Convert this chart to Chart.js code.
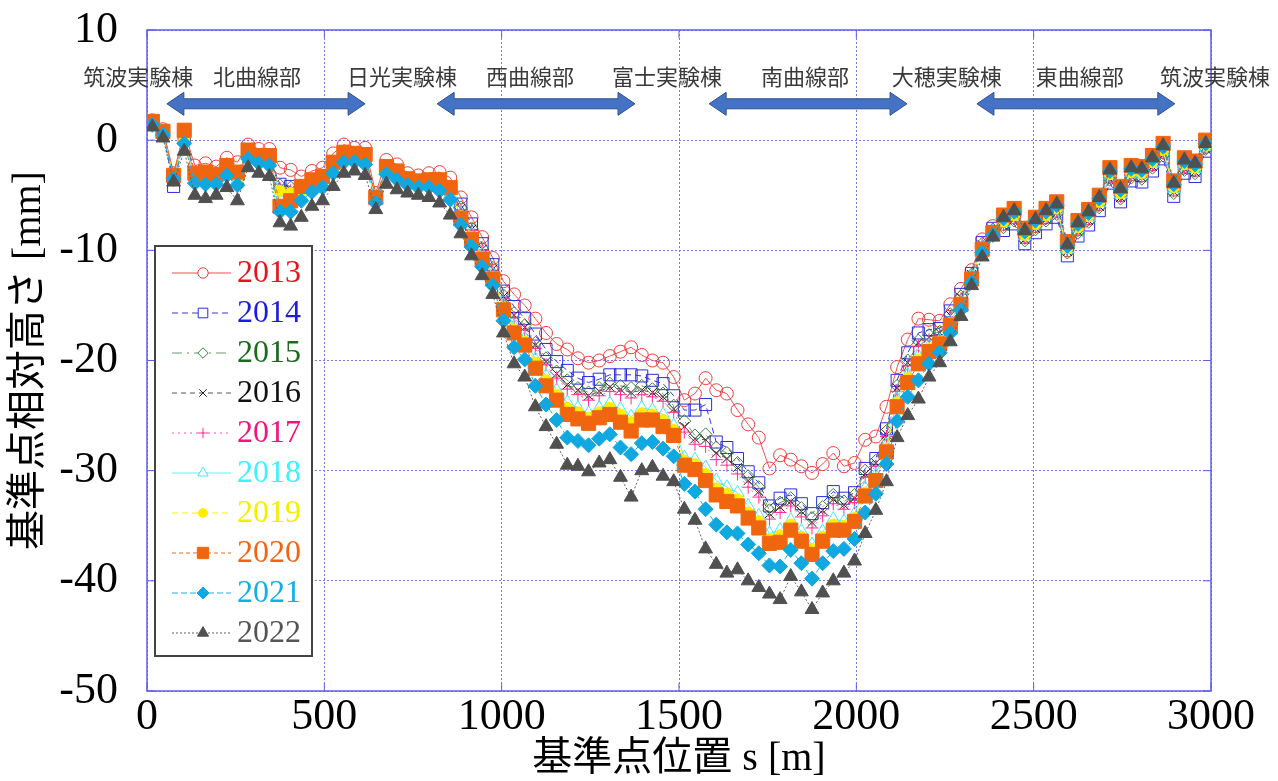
<!DOCTYPE html>
<html lang="ja">
<head>
<meta charset="utf-8">
<title>基準点相対高さ</title>
<script src="https://cdn.jsdelivr.net/npm/chart.js@4.4.0/dist/chart.umd.min.js"></script>
<style>
  html, body { margin: 0; padding: 0; background: #fff; }
  #wrap { width: 1278px; height: 781px; }
</style>
</head>
<body>
<div id="wrap"><canvas id="chart" width="1278" height="781"></canvas></div>
<script>
// survey point position s [m]
const positions = [
  15, 45, 75, 105, 135, 165, 195, 225, 255, 285,
  315, 345, 375, 405, 435, 465, 495, 525, 555, 585,
  615, 645, 675, 705, 735, 765, 795, 825, 855, 885,
  915, 945, 975, 1005, 1035, 1065, 1095, 1125, 1155, 1185,
  1215, 1245, 1275, 1305, 1335, 1365, 1395, 1425, 1455, 1485,
  1515, 1545, 1575, 1605, 1635, 1665, 1695, 1725, 1755, 1785,
  1815, 1845, 1875, 1905, 1935, 1965, 1995, 2025, 2055, 2085,
  2115, 2145, 2175, 2205, 2235, 2265, 2295, 2325, 2355, 2385,
  2415, 2445, 2475, 2505, 2535, 2565, 2595, 2625, 2655, 2685,
  2715, 2745, 2775, 2805, 2835, 2865, 2895, 2925, 2955, 2985
];

// relative height [mm] per year
const y2013 = [
  1.8, 1.0, -3.0, 0.8, -2.3, -2.1, -2.4, -1.6, -2.0, -0.4,
  -0.8, -0.8, -2.5, -2.7, -3.3, -2.8, -2.5, -1.2, -0.4, -0.7,
  -0.7, -4.8, -1.8, -2.2, -3.0, -3.2, -3.0, -2.9, -3.4, -5.2,
  -7.0, -8.8, -10.7, -12.8, -14.0, -15.0, -16.2, -17.5, -18.5, -19.0,
  -19.8, -20.2, -20.0, -19.6, -19.2, -18.8, -19.5, -20.0, -20.2, -21.5,
  -23.6, -23.0, -21.6, -22.7, -23.0, -24.5, -25.8, -27.0, -29.8, -28.6,
  -29.0, -29.6, -30.2, -29.4, -28.4, -29.6, -29.3, -27.2, -26.9, -24.2,
  -20.6, -18.1, -16.2, -16.3, -16.4, -14.9, -13.5, -11.8, -9.0, -7.8,
  -7.6, -7.0, -8.8, -7.8, -7.0, -6.4, -10.0, -8.1, -7.1, -5.8,
  -3.3, -5.0, -3.1, -3.2, -2.2, -1.1, -4.5, -2.4, -2.7, -0.6
];
const y2014 = [
  1.6, 0.8, -4.2, 0.3, -3.1, -3.1, -3.2, -2.4, -3.1, -1.0,
  -1.5, -1.6, -4.0, -4.2, -4.4, -3.8, -3.4, -2.1, -1.2, -1.3,
  -1.5, -5.3, -2.5, -2.9, -3.5, -3.7, -3.7, -3.7, -4.4, -5.8,
  -7.6, -9.4, -11.3, -13.7, -15.1, -16.2, -17.6, -19.0, -20.1, -20.9,
  -21.6, -22.0, -21.7, -21.3, -21.3, -21.3, -21.4, -21.8, -22.1, -23.2,
  -24.5, -24.5, -24.0, -27.4, -27.9, -28.9, -30.1, -31.1, -33.2, -32.5,
  -32.2, -33.0, -33.9, -32.9, -31.9, -32.5, -32.0, -29.8, -28.9, -26.2,
  -21.8, -19.3, -17.5, -17.2, -17.1, -15.5, -14.0, -12.1, -9.3, -8.0,
  -8.2, -7.6, -9.4, -8.4, -7.6, -7.0, -10.5, -8.7, -7.7, -6.4,
  -3.9, -5.6, -3.7, -3.8, -2.8, -1.7, -5.1, -3.0, -3.3, -1.0
];
const y2015 = [
  1.6, 0.7, -3.3, 0.2, -3.2, -3.1, -3.2, -2.5, -3.1, -1.1,
  -1.5, -1.6, -4.1, -4.3, -4.5, -3.8, -3.5, -2.2, -1.2, -1.4,
  -1.5, -5.3, -2.5, -2.9, -3.6, -3.8, -3.7, -3.8, -4.5, -6.1,
  -8.0, -9.8, -11.6, -14.1, -15.7, -16.8, -18.4, -19.8, -21.0, -21.8,
  -22.5, -22.9, -22.5, -22.1, -22.3, -22.5, -22.3, -22.6, -23.0, -24.1,
  -25.5, -26.8, -26.7, -27.9, -28.4, -29.3, -30.5, -31.5, -33.6, -32.9,
  -32.5, -33.4, -34.3, -33.3, -32.2, -32.8, -32.2, -30.0, -29.1, -26.4,
  -22.3, -20.0, -18.2, -17.7, -17.4, -15.8, -14.2, -12.2, -9.4, -8.1,
  -7.9, -7.3, -9.1, -8.1, -7.3, -6.7, -10.2, -8.4, -7.4, -6.1,
  -3.6, -5.3, -3.4, -3.5, -2.5, -1.4, -4.8, -2.7, -3.0, -0.8
];
const y2016 = [
  1.6, 0.7, -3.3, 0.2, -3.3, -3.3, -3.3, -2.6, -3.3, -1.2,
  -1.6, -1.7, -4.3, -4.5, -4.6, -4.0, -3.6, -2.3, -1.3, -1.5,
  -1.6, -5.3, -2.6, -3.0, -3.7, -3.9, -3.8, -3.9, -4.6, -6.2,
  -8.1, -9.9, -11.7, -14.2, -15.9, -17.0, -18.6, -20.1, -21.2, -22.2,
  -22.7, -23.2, -22.8, -22.4, -22.6, -22.9, -22.7, -22.9, -23.3, -24.4,
  -26.0, -27.1, -27.2, -28.4, -28.9, -29.7, -30.9, -31.9, -33.9, -33.3,
  -32.8, -33.7, -34.7, -33.6, -32.6, -33.1, -32.5, -30.3, -29.3, -26.7,
  -22.5, -20.2, -18.4, -17.9, -17.5, -15.9, -14.3, -12.2, -9.5, -8.1,
  -7.8, -7.2, -9.0, -8.0, -7.2, -6.6, -10.1, -8.3, -7.3, -6.0,
  -3.5, -5.2, -3.3, -3.4, -2.4, -1.3, -4.7, -2.6, -2.9, -0.8
];
const y2017 = [
  1.6, 0.7, -3.3, 0.1, -3.3, -3.3, -3.4, -2.6, -3.3, -1.2,
  -1.6, -1.8, -4.4, -4.6, -4.7, -4.0, -3.6, -2.3, -1.4, -1.5,
  -1.7, -5.4, -2.6, -3.1, -3.7, -3.9, -3.8, -4.0, -4.7, -6.3,
  -8.2, -10.0, -11.8, -14.4, -16.1, -17.2, -18.9, -20.4, -21.6, -22.6,
  -23.1, -23.6, -23.2, -22.8, -23.1, -23.4, -23.1, -23.3, -23.7, -24.7,
  -26.5, -27.6, -27.8, -29.0, -29.5, -30.3, -31.5, -32.4, -34.4, -33.8,
  -33.2, -34.2, -35.2, -34.1, -33.0, -33.5, -32.9, -30.6, -29.6, -26.9,
  -22.8, -20.5, -18.7, -18.1, -17.7, -16.1, -14.4, -12.3, -9.5, -8.1,
  -7.7, -7.1, -8.9, -7.9, -7.1, -6.5, -10.0, -8.2, -7.2, -5.9,
  -3.4, -5.1, -3.2, -3.3, -2.3, -1.2, -4.6, -2.5, -2.8, -0.7
];
const y2018 = [
  1.5, 0.6, -3.4, 0.0, -3.5, -3.5, -3.6, -2.8, -3.6, -1.4,
  -1.8, -1.9, -4.8, -5.0, -5.0, -4.2, -3.9, -2.6, -1.6, -1.7,
  -1.8, -5.5, -2.8, -3.2, -3.8, -4.0, -4.0, -4.2, -4.9, -6.7,
  -8.6, -10.4, -12.2, -15.0, -16.9, -18.0, -19.9, -21.4, -22.7, -23.8,
  -24.3, -24.8, -24.3, -23.9, -24.4, -25.1, -24.3, -24.5, -24.9, -25.9,
  -28.8, -29.0, -29.7, -30.9, -31.5, -32.0, -33.2, -34.1, -35.7, -35.4,
  -34.5, -35.5, -36.7, -35.5, -34.4, -34.6, -33.9, -31.6, -30.4, -27.7,
  -23.5, -21.3, -19.6, -18.7, -18.2, -16.5, -14.7, -12.4, -9.7, -8.3,
  -7.5, -6.9, -8.7, -7.7, -6.9, -6.3, -9.9, -8.0, -7.0, -5.7,
  -3.2, -4.9, -3.0, -3.1, -2.1, -1.0, -4.4, -2.3, -2.6, -0.6
];
const y2019 = [
  1.5, 0.7, -3.3, 0.0, -3.4, -3.4, -3.5, -2.7, -3.5, -1.3,
  -1.7, -1.9, -4.6, -4.8, -4.9, -4.1, -3.8, -2.5, -1.5, -1.6,
  -1.8, -5.4, -2.7, -3.2, -3.8, -4.0, -3.9, -4.1, -4.8, -6.9,
  -8.8, -10.6, -12.4, -15.2, -17.2, -18.3, -20.2, -21.8, -23.1, -24.3,
  -24.7, -25.2, -24.7, -24.3, -24.9, -25.6, -24.8, -24.9, -25.4, -26.3,
  -29.1, -29.4, -30.3, -31.6, -32.1, -32.6, -33.8, -34.6, -36.2, -35.9,
  -34.9, -36.0, -37.1, -36.0, -34.9, -35.0, -34.3, -32.0, -30.7, -28.0,
  -23.8, -21.6, -19.9, -18.9, -18.3, -16.6, -14.8, -12.5, -9.8, -8.3,
  -7.4, -6.8, -8.6, -7.6, -6.8, -6.2, -9.8, -7.9, -6.9, -5.6,
  -3.1, -4.8, -2.9, -3.0, -2.0, -0.9, -4.3, -2.2, -2.5, -0.5
];
const y2020 = [
  1.7, 0.8, -3.2, 0.9, -3.0, -2.9, -3.1, -2.3, -2.9, -0.9,
  -1.4, -1.4, -6.0, -5.5, -4.2, -3.6, -3.3, -2.0, -1.1, -1.2,
  -1.3, -5.2, -2.4, -2.8, -3.5, -3.7, -3.6, -3.6, -4.3, -7.1,
  -9.0, -10.8, -12.6, -15.4, -17.5, -18.6, -20.7, -22.3, -23.6, -24.9,
  -25.3, -25.7, -25.2, -24.9, -25.6, -26.4, -25.4, -25.4, -26.0, -26.8,
  -29.5, -29.9, -30.9, -32.2, -32.8, -33.2, -34.3, -35.2, -36.6, -36.5,
  -35.4, -36.4, -37.6, -36.4, -35.4, -35.4, -34.6, -32.3, -30.9, -28.3,
  -24.2, -22.0, -20.3, -19.2, -18.5, -16.8, -14.9, -12.6, -9.9, -8.4,
  -6.8, -6.2, -8.0, -7.0, -6.2, -5.6, -9.2, -7.3, -6.3, -5.0,
  -2.5, -4.2, -2.3, -2.4, -1.4, -0.3, -3.7, -1.6, -1.9, 0.0
];
const y2021 = [
  1.4, 0.5, -3.5, -0.3, -3.9, -4.0, -4.0, -3.2, -4.1, -1.7,
  -2.1, -2.3, -6.5, -6.5, -5.5, -4.7, -4.3, -3.0, -2.0, -2.0,
  -2.2, -5.7, -3.1, -3.6, -4.1, -4.3, -4.3, -4.6, -5.4, -7.7,
  -9.7, -11.5, -13.2, -16.4, -18.8, -19.9, -22.3, -24.0, -25.4, -27.0,
  -27.3, -27.7, -27.1, -26.7, -27.9, -28.5, -27.5, -27.4, -28.0, -28.7,
  -31.2, -31.9, -33.5, -34.9, -35.6, -35.7, -36.7, -37.5, -38.6, -38.7,
  -37.2, -38.4, -39.8, -38.4, -37.3, -37.1, -36.2, -33.8, -32.1, -29.4,
  -25.5, -23.3, -21.8, -20.3, -19.3, -17.5, -15.4, -12.9, -10.2, -8.6,
  -7.1, -6.5, -8.3, -7.3, -6.5, -5.9, -9.6, -7.6, -6.6, -5.3,
  -2.8, -4.5, -2.6, -2.7, -1.7, -0.6, -4.0, -1.9, -2.2, -0.3
];
const y2022 = [
  1.2, 0.2, -3.8, -1.0, -5.0, -5.3, -5.0, -4.3, -5.5, -2.5,
  -3.0, -3.3, -7.5, -7.8, -7.0, -6.0, -5.5, -4.2, -3.0, -2.8,
  -3.2, -6.3, -4.0, -4.5, -4.8, -5.0, -5.2, -5.7, -6.8, -8.5,
  -10.5, -12.3, -14.0, -17.5, -20.3, -21.5, -24.2, -26.0, -27.6, -29.5,
  -29.6, -30.1, -29.3, -29.0, -30.6, -32.4, -30.0, -29.7, -30.5, -31.0,
  -33.5, -34.5, -37.1, -38.5, -39.3, -39.0, -40.0, -40.6, -41.2, -41.7,
  -39.6, -41.0, -42.6, -41.1, -40.0, -39.3, -38.2, -35.7, -33.6, -31.0,
  -27.0, -25.0, -23.5, -21.5, -20.2, -18.3, -16.0, -13.2, -10.6, -8.8,
  -7.0, -6.4, -8.2, -7.2, -6.4, -5.8, -9.5, -7.5, -6.5, -5.2,
  -2.7, -4.4, -2.5, -2.6, -1.6, -0.5, -3.9, -1.8, -2.1, -0.3
];

const years = ['2013', '2014', '2015', '2016', '2017', '2018', '2019', '2020', '2021', '2022'];
const series = [y2013, y2014, y2015, y2016, y2017, y2018, y2019, y2020, y2021, y2022];
const xTicks = [0, 500, 1000, 1500, 2000, 2500, 3000];
const yTicks = [-50, -40, -30, -20, -10, 0, 10];
const sectionNames = ['筑波実験棟', '北曲線部', '日光実験棟', '西曲線部', '富士実験棟',
  '南曲線部', '大穂実験棟', '東曲線部', '筑波実験棟'];

// look of each year (line, marker, legend text)
const looks = [
  { line: '#f05050', mark: '#f03c3c', fill: 'rgba(0,0,0,0)', style: 'circle', r: 6.5, dash: [], text: '#e8141c' },
  { line: '#3535e0', mark: '#2c2ce0', fill: 'rgba(0,0,0,0)', style: 'rect', r: 8.5, dash: [6, 4], text: '#1c1ce0' },
  { line: '#6a9a6a', mark: '#3f7f3f', fill: 'rgba(0,0,0,0)', style: 'rectRot', r: 6.5, dash: [10, 5, 2, 5], text: '#1a6b1a' },
  { line: '#555555', mark: '#222222', fill: 'rgba(0,0,0,0)', style: 'crossRot', r: 6.5, dash: [5, 4], text: '#111111' },
  { line: '#ff4da6', mark: '#ff2e95', fill: 'rgba(0,0,0,0)', style: 'cross', r: 6.5, dash: [2, 4], text: '#f0147c' },
  { line: '#5ff2ff', mark: '#44eaff', fill: 'rgba(0,0,0,0)', style: 'triangle', r: 7.5, dash: [], text: '#3ff0ff' },
  { line: '#ffee00', mark: '#ffea00', fill: '#ffee00', style: 'circle', r: 5.5, dash: [6, 4], text: '#f2f000' },
  { line: '#f06a1a', mark: '#f0660f', fill: '#f0660f', style: 'rect', r: 10, dash: [4, 3], text: '#f26414' },
  { line: '#22aee6', mark: '#10a8e0', fill: '#10a8e0', style: 'rectRot', r: 7.5, dash: [6, 3], text: '#14aee6' },
  { line: '#606060', mark: '#505050', fill: '#505050', style: 'triangle', r: 8, dash: [2, 2], text: '#555555' }
];

const overlay = {
  id: 'overlay',
  beforeDatasetsDraw(chart) {
    const { ctx, chartArea: a, scales } = chart;
    ctx.save();
    ctx.strokeStyle = '#5f5fe8';
    ctx.lineWidth = 1.5;
    ctx.strokeRect(a.left, a.top, a.right - a.left, a.bottom - a.top);
    ctx.lineWidth = 1;
    ctx.beginPath();
    yTicks.forEach(v => {
      const py = scales.y.getPixelForValue(v);
      ctx.moveTo(a.left, py); ctx.lineTo(a.left + 8, py);
      ctx.moveTo(a.right, py); ctx.lineTo(a.right - 8, py);
    });
    xTicks.forEach(v => {
      const px = scales.x.getPixelForValue(v);
      ctx.moveTo(px, a.bottom); ctx.lineTo(px, a.bottom - 8);
      ctx.moveTo(px, a.top); ctx.lineTo(px, a.top + 8);
    });
    ctx.stroke();
    ctx.restore();
  },
  afterDatasetsDraw(chart) {
    const { ctx } = chart;
    // legend box
    ctx.save();
    ctx.fillStyle = '#fff';
    ctx.fillRect(155, 246, 157, 410);
    ctx.strokeStyle = '#444';
    ctx.lineWidth = 2;
    ctx.strokeRect(155, 246, 157, 410);
    years.forEach((yr, i) => {
      const lk = looks[i];
      const y = 273 + i * 40;
      ctx.strokeStyle = lk.line;
      ctx.lineWidth = 1;
      ctx.setLineDash(lk.dash);
      ctx.beginPath();
      ctx.moveTo(172, y); ctx.lineTo(231, y);
      ctx.stroke();
      ctx.setLineDash([]);
      ctx.fillStyle = lk.fill === 'rgba(0,0,0,0)' ? '#fff' : lk.fill;
      ctx.strokeStyle = lk.mark;
      Chart.helpers.drawPoint(ctx, { pointStyle: lk.style, radius: lk.r * 0.8, rotation: 0, borderWidth: 1 }, 203, y);
      ctx.fillStyle = lk.text;
      ctx.font = '32px "Liberation Serif"';
      ctx.textAlign = 'left';
      ctx.textBaseline = 'middle';
      ctx.fillText(yr, 237, y + 1);
    });
    ctx.restore();
  },
  afterDraw(chart) {
    const { ctx, scales } = chart;
    const sx = v => scales.x.getPixelForValue(v);
    const ty = scales.y.getPixelForValue(5.8);
    const ay = scales.y.getPixelForValue(3.3);
    const labelAt = [-25, 310, 719, 1080, 1466, 1855, 2255, 2630, 3011];
    const arrows = [[56, 615], [818, 1376], [1585, 2143], [2340, 2898]];
    ctx.save();
    ctx.font = '22px "Noto Sans CJK JP"';
    ctx.fillStyle = '#3a3a3a';
    ctx.textAlign = 'center';
    ctx.textBaseline = 'middle';
    sectionNames.forEach((t, i) => ctx.fillText(t, sx(labelAt[i]), ty));
    arrows.forEach(([s1, s2]) => {
      const x1 = sx(s1), x2 = sx(s2);
      const sh = 5, hh = 11.5, hl = 17;
      ctx.beginPath();
      ctx.moveTo(x1, ay);
      ctx.lineTo(x1 + hl, ay - hh);
      ctx.lineTo(x1 + hl, ay - sh);
      ctx.lineTo(x2 - hl, ay - sh);
      ctx.lineTo(x2 - hl, ay - hh);
      ctx.lineTo(x2, ay);
      ctx.lineTo(x2 - hl, ay + hh);
      ctx.lineTo(x2 - hl, ay + sh);
      ctx.lineTo(x1 + hl, ay + sh);
      ctx.lineTo(x1 + hl, ay + hh);
      ctx.closePath();
      ctx.fillStyle = '#4472c4';
      ctx.fill();
      ctx.strokeStyle = '#2f4f8f';
      ctx.lineWidth = 1;
      ctx.stroke();
    });
    ctx.restore();
  }
};

const tickFont = { family: '"Liberation Serif"', size: 44 };
const titleFont = { family: '"Liberation Serif", "Noto Sans CJK JP"', size: 40, lineHeight: 1 };

new Chart(document.getElementById('chart'), {
  type: 'line',
  data: {
    datasets: years.map((yr, i) => ({
      label: yr,
      data: positions.map((s, k) => ({ x: s, y: series[i][k] })),
      borderColor: looks[i].line,
      borderWidth: 1,
      borderDash: looks[i].dash,
      pointStyle: looks[i].style,
      pointRadius: looks[i].r,
      pointBorderColor: looks[i].mark,
      pointBackgroundColor: looks[i].fill,
      pointBorderWidth: 1,
      tension: 0,
      fill: false,
      order: 10 - i
    }))
  },
  options: {
    responsive: false,
    devicePixelRatio: 1,
    animation: false,
    layout: { padding: { top: 30, right: 67, bottom: 0, left: 0 } },
    plugins: { legend: { display: false }, tooltip: { enabled: false } },
    scales: {
      x: {
        type: 'linear', min: 0, max: 3000,
        afterBuildTicks: s => { s.ticks = xTicks.map(v => ({ value: v })); },
        afterFit: s => { s.height = 90; },
        ticks: { color: '#000', font: tickFont, padding: 0, maxRotation: 0, autoSkip: false, callback: v => String(v) },
        grid: { color: '#7878ee', lineWidth: 1, drawTicks: false },
        border: { display: false, dash: [2, 2] },
        title: { display: true, text: '基準点位置 s [m]', color: '#000', font: titleFont, padding: { top: 0, bottom: 2 } }
      },
      y: {
        type: 'linear', min: -50, max: 10,
        afterBuildTicks: s => { s.ticks = yTicks.map(v => ({ value: v })); },
        afterFit: s => { s.width = 147; s.paddingTop = 0; s.paddingBottom = 0; },
        ticks: { color: '#000', font: tickFont, padding: 29, callback: v => String(v) },
        grid: { color: '#7878ee', lineWidth: 1, drawTicks: false },
        border: { display: false, dash: [2, 2] },
        title: { display: true, text: '基準点相対高さ [mm]', color: '#000', font: titleFont, padding: { top: 9, bottom: 0 } }
      }
    }
  },
  plugins: [overlay]
});
</script>
</body>
</html>
